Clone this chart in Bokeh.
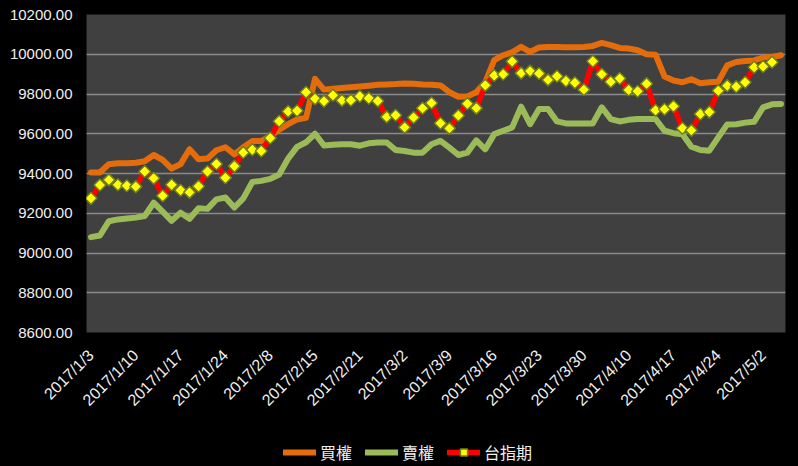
import numpy as np
from bokeh.plotting import figure
from bokeh.layouts import column
from bokeh.models import (Range1d, FixedTicker, NumeralTickFormatter, Legend, LegendItem)
from bokeh.embed import file_html
from bokeh.resources import INLINE

dates = ["2017/1/3", "2017/1/4", "2017/1/5", "2017/1/6", "2017/1/9", "2017/1/10", "2017/1/11", "2017/1/12",
         "2017/1/13", "2017/1/16", "2017/1/17", "2017/1/18", "2017/1/19", "2017/1/20", "2017/1/23", "2017/1/24",
         "2017/2/2", "2017/2/3", "2017/2/6", "2017/2/7", "2017/2/8", "2017/2/9", "2017/2/10", "2017/2/13",
         "2017/2/14", "2017/2/15", "2017/2/16", "2017/2/17", "2017/2/18", "2017/2/20", "2017/2/21", "2017/2/22",
         "2017/2/23", "2017/2/24", "2017/3/1", "2017/3/2", "2017/3/3", "2017/3/6", "2017/3/7", "2017/3/8",
         "2017/3/9", "2017/3/10", "2017/3/13", "2017/3/14", "2017/3/15", "2017/3/16", "2017/3/17", "2017/3/20",
         "2017/3/21", "2017/3/22", "2017/3/23", "2017/3/24", "2017/3/27", "2017/3/28", "2017/3/29", "2017/3/30",
         "2017/3/31", "2017/4/5", "2017/4/6", "2017/4/7", "2017/4/10", "2017/4/11", "2017/4/12", "2017/4/13",
         "2017/4/14", "2017/4/17", "2017/4/18", "2017/4/19", "2017/4/20", "2017/4/21", "2017/4/24", "2017/4/25",
         "2017/4/26", "2017/4/27", "2017/4/28", "2017/5/2", "2017/5/3", "2017/5/4"]

call_oi = [9405, 9405, 9447, 9452, 9452, 9454, 9462, 9493, 9469, 9425, 9447, 9522, 9472, 9475, 9517, 9532,
           9496, 9532, 9563, 9563, 9588, 9620, 9648, 9672, 9680, 9876, 9822, 9826, 9830, 9834, 9838, 9842,
           9846, 9848, 9850, 9853, 9851, 9848, 9846, 9843, 9809, 9786, 9788, 9809, 9860, 9970, 9995, 10010,
           10037, 10012, 10034, 10037, 10037, 10035, 10035, 10037, 10042, 10057, 10046, 10032, 10029, 10020,
           10000, 9998, 9888, 9868, 9859, 9874, 9854, 9859, 9862, 9944, 9961, 9966, 9969, 9983, 9986, 9995]

put_oi = [9080, 9088, 9160, 9169, 9174, 9178, 9186, 9253, 9208, 9162, 9203, 9172, 9225, 9222, 9270, 9279,
          9229, 9275, 9357, 9363, 9373, 9395, 9475, 9534, 9557, 9600, 9541, 9545, 9547, 9547, 9540, 9552,
          9556, 9556, 9518, 9513, 9505, 9505, 9547, 9564, 9530, 9493, 9505, 9567, 9522, 9598, 9615, 9632,
          9736, 9648, 9725, 9725, 9662, 9652, 9652, 9652, 9652, 9733, 9674, 9662, 9670, 9674, 9674, 9674,
          9615, 9603, 9598, 9535, 9518, 9515, 9582, 9647, 9648, 9656, 9660, 9733, 9748, 9750]

futures = [9275, 9342, 9368, 9343, 9338, 9334, 9410, 9376, 9288, 9343, 9316, 9305, 9336, 9410, 9448, 9379,
           9437, 9506, 9520, 9513, 9579, 9663, 9712, 9716, 9809, 9776, 9764, 9794, 9768, 9769, 9789, 9779,
           9765, 9685, 9693, 9632, 9682, 9728, 9755, 9653, 9627, 9692, 9751, 9729, 9844, 9893, 9899, 9964,
           9905, 9915, 9903, 9871, 9889, 9865, 9857, 9822, 9965, 9899, 9862, 9878, 9820, 9814, 9852, 9718,
           9723, 9738, 9628, 9617, 9699, 9709, 9816, 9842, 9837, 9859, 9935, 9938, 9960]

series_names = ["買權", "賣權", "台指期"]
y_ticks = [8600, 8800, 9000, 9200, 9400, 9600, 9800, 10000, 10200]
label_step = 5

x_all = list(range(len(dates)))
x_fut = list(range(len(futures)))

CALL_C, PUT_C, FUT_C, MK_FILL, MK_LINE = "#E46C0A", "#9BBB59", "#FF0000", "#FFFF00", "#6E7D1E"


def draw_series(fig):
    a = fig.line(x_all, call_oi, line_color=CALL_C, line_width=6, line_join="round", line_cap="round")
    b = fig.line(x_all, put_oi, line_color=PUT_C, line_width=6, line_join="round", line_cap="round")
    c = fig.line(x_fut, futures, line_color=FUT_C, line_width=5.5, line_join="round", line_cap="round")
    d = fig.scatter(x_fut, futures, marker="square", angle=np.pi / 4, size=8.5,
                    fill_color=MK_FILL, line_color=MK_LINE, line_width=1.5)
    return a, b, c, d


p = figure(width=798, height=430, output_backend="svg", toolbar_location=None,
           x_range=Range1d(-0.5, len(dates) - 0.5), y_range=Range1d(y_ticks[0], y_ticks[-1]),
           min_border_left=86, min_border_right=13, min_border_top=14, min_border_bottom=98)
p.background_fill_color = "#404040"
p.border_fill_color = "black"
p.outline_line_color = None

p.xgrid.grid_line_color = None
p.ygrid.grid_line_color = "#8a8a8a"
p.ygrid.grid_line_width = 1.5

num_font = "Liberation Sans"
p.yaxis.ticker = FixedTicker(ticks=y_ticks)
p.yaxis.formatter = NumeralTickFormatter(format="0.00")
p.yaxis.axis_line_color = None
p.yaxis.major_tick_line_color = None
p.yaxis.minor_tick_line_color = None
p.yaxis.major_tick_out = 0
p.yaxis.major_label_standoff = 14
p.yaxis.major_label_text_color = "#f0f0f0"
p.yaxis.major_label_text_font = num_font
p.yaxis.major_label_text_font_size = "15px"

tick_idx = list(range(0, len(dates), label_step))
p.xaxis.ticker = FixedTicker(ticks=tick_idx)
p.xaxis.major_label_overrides = {i: dates[i] for i in tick_idx}
p.xaxis.axis_line_color = None
p.xaxis.major_tick_line_color = None
p.xaxis.minor_tick_line_color = None
p.xaxis.major_tick_out = 0
p.xaxis.major_label_standoff = 20
p.xaxis.major_label_orientation = np.pi / 4
p.xaxis.major_label_text_color = "#f0f0f0"
p.xaxis.major_label_text_font = num_font
p.xaxis.major_label_text_font_size = "16px"

draw_series(p)

# legend strip below the chart: same series, drawn off-view so only the legend shows
lg = figure(width=798, height=36, output_backend="svg", toolbar_location=None,
            x_range=Range1d(1000, 1001), y_range=Range1d(0, 1),
            min_border_left=0, min_border_right=0, min_border_top=0, min_border_bottom=0)
lg.axis.visible = False
lg.grid.visible = False
lg.background_fill_color = "black"
lg.border_fill_color = "black"
lg.outline_line_color = None
g_call, g_put, g_fut, g_mk = draw_series(lg)

legend = Legend(items=[LegendItem(label=series_names[0], renderers=[g_call]),
                       LegendItem(label=series_names[1], renderers=[g_put]),
                       LegendItem(label=series_names[2], renderers=[g_fut, g_mk])],
                orientation="horizontal", location=(197, 2),
                background_fill_alpha=0, border_line_color=None,
                label_text_color="#f0f0f0", label_text_font="Noto Sans CJK TC",
                label_text_font_size="16px", glyph_width=33, glyph_height=18,
                label_standoff=4, spacing=13, padding=2, margin=0)
lg.add_layout(legend, "center")

layout = column(p, lg, spacing=0)
html = file_html(layout, INLINE)
html = html.replace("<body>", '<body style="background-color:black;">')
open("out.html", "w").write(html)
